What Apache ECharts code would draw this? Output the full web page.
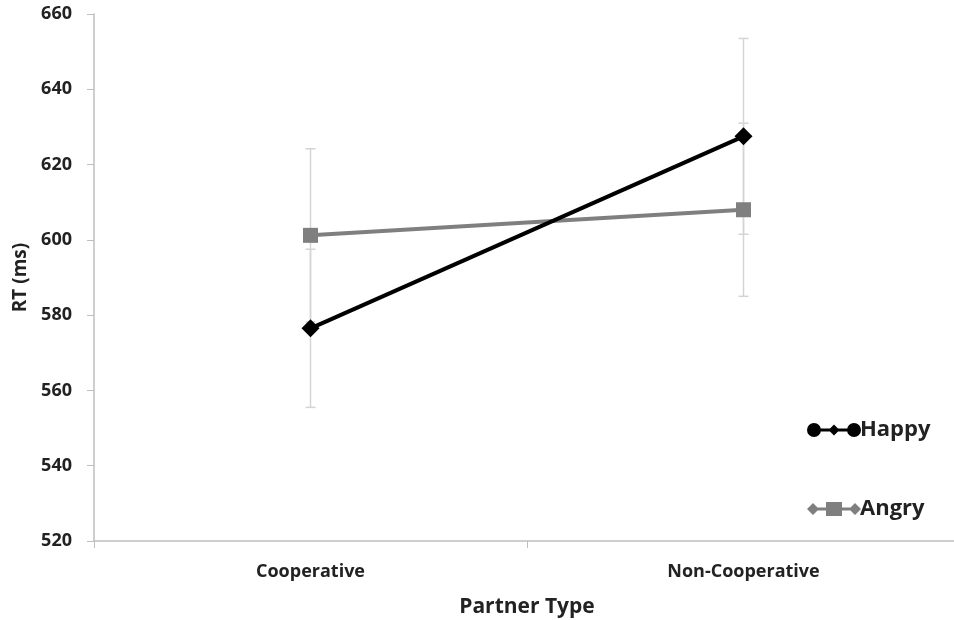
<!DOCTYPE html>
<html>
<head>
<meta charset="utf-8">
<script src="https://cdn.jsdelivr.net/npm/echarts@6/dist/echarts.min.js"></script>
<style>
  html, body { margin: 0; padding: 0; background: #fff; }
  #chart { width: 954px; height: 620px; }
</style>
</head>
<body>
<div id="chart"></div>
<script>
// Partner type conditions
const categories = ['Cooperative', 'Non-Cooperative'];
// Mean reaction times (ms)
const happyRT = [576.5, 627.5];
const angryRT = [601.2, 608.0];
// Error bar half-widths (ms)
const happyErr = [21.0, 26.0];
const angryErr = [23.0, 23.0];
const yTicks = { min: 520, max: 660, step: 20 };

const FONT = '"Open Sans", "DejaVu Sans", sans-serif';
const HAPPY_COLOR = '#000000';
const ANGRY_COLOR = '#7f7f7f';
const ERR_COLOR = '#d4d4d4';
const TEXT_COLOR = '#222222';

// legend glyphs: circle-diamond-circle and diamond-square-diamond on a bar
const happyIcon = 'path://M0,8 A7,7 0 1 1 14,8 A7,7 0 1 1 0,8 Z ' +
  'M12,6.5 L42,6.5 L42,9.5 L12,9.5 Z ' +
  'M27,2.5 L32.5,8 L27,13.5 L21.5,8 Z ' +
  'M40,8 A7,7 0 1 1 54,8 A7,7 0 1 1 40,8 Z';
const angryIcon = 'path://M6,2 L12,8 L6,14 L0,8 Z ' +
  'M8,6.5 L46,6.5 L46,9.5 L8,9.5 Z ' +
  'M19,1 L35,1 L35,15 L19,15 Z ' +
  'M48,2 L54,8 L48,14 L42,8 Z';

function errorRows(means, errs) {
  return means.map((m, i) => [i, m - errs[i], m + errs[i]]);
}

function renderErr(params, api) {
  const x = api.value(0);
  const lo = api.coord([x, api.value(1)]);
  const hi = api.coord([x, api.value(2)]);
  const cap = 5;
  const style = { stroke: ERR_COLOR, lineWidth: 1.5 };
  return {
    type: 'group',
    children: [
      { type: 'line', shape: { x1: lo[0], y1: lo[1], x2: hi[0], y2: hi[1] }, style },
      { type: 'line', shape: { x1: lo[0] - cap, y1: lo[1], x2: lo[0] + cap, y2: lo[1] }, style },
      { type: 'line', shape: { x1: hi[0] - cap, y1: hi[1], x2: hi[0] + cap, y2: hi[1] }, style }
    ]
  };
}

const chart = echarts.init(document.getElementById('chart'));
chart.setOption({
  animation: false,
  backgroundColor: '#ffffff',
  grid: {
    left: 94, top: 14, width: 866, bottom: 79,
    containLabel: false, outerBoundsMode: 'none'
  },
  legend: {
    orient: 'vertical',
    left: 802,
    top: 414,
    itemWidth: 54,
    itemHeight: 16,
    itemGap: 57,
    textStyle: { fontFamily: FONT, fontWeight: 'bold', fontSize: 22, color: TEXT_COLOR, padding: [0, 0, 0, -6] },
    data: [
      { name: 'Happy', icon: happyIcon },
      { name: 'Angry', icon: angryIcon }
    ]
  },
  xAxis: {
    type: 'category',
    data: categories,
    boundaryGap: true,
    name: 'Partner Type',
    nameLocation: 'middle',
    nameGap: 56,
    nameTextStyle: { fontFamily: FONT, fontWeight: 'bold', fontSize: 21, color: TEXT_COLOR },
    axisLine: { lineStyle: { color: '#bfbfbf', width: 1.5 } },
    axisTick: { show: true, length: 7, lineStyle: { color: '#bfbfbf' } },
    axisLabel: { margin: 22, fontFamily: FONT, fontWeight: 'bold', fontSize: 18, color: TEXT_COLOR }
  },
  yAxis: {
    type: 'value',
    min: yTicks.min,
    max: yTicks.max,
    interval: yTicks.step,
    name: 'RT (ms)',
    nameLocation: 'middle',
    nameGap: 61,
    nameTextStyle: { fontFamily: FONT, fontWeight: 'bold', fontSize: 19, color: TEXT_COLOR },
    axisLine: { show: true, lineStyle: { color: '#bfbfbf', width: 1.5 } },
    axisTick: { show: true, length: 7, lineStyle: { color: '#bfbfbf' } },
    splitLine: { show: false },
    axisLabel: { margin: 22, fontFamily: FONT, fontWeight: 'bold', fontSize: 18, color: TEXT_COLOR }
  },
  series: [
    {
      name: 'HappyErr', type: 'custom', renderItem: renderErr,
      data: errorRows(happyRT, happyErr), z: 1, silent: true
    },
    {
      name: 'AngryErr', type: 'custom', renderItem: renderErr,
      data: errorRows(angryRT, angryErr), z: 1, silent: true
    },
    {
      name: 'Angry', type: 'line', data: angryRT, z: 3,
      symbol: 'rect', symbolSize: 15,
      lineStyle: { color: ANGRY_COLOR, width: 4 },
      itemStyle: { color: ANGRY_COLOR }
    },
    {
      name: 'Happy', type: 'line', data: happyRT, z: 4,
      symbol: 'diamond', symbolSize: 18,
      lineStyle: { color: HAPPY_COLOR, width: 4 },
      itemStyle: { color: HAPPY_COLOR }
    }
  ]
});
</script>
</body>
</html>
